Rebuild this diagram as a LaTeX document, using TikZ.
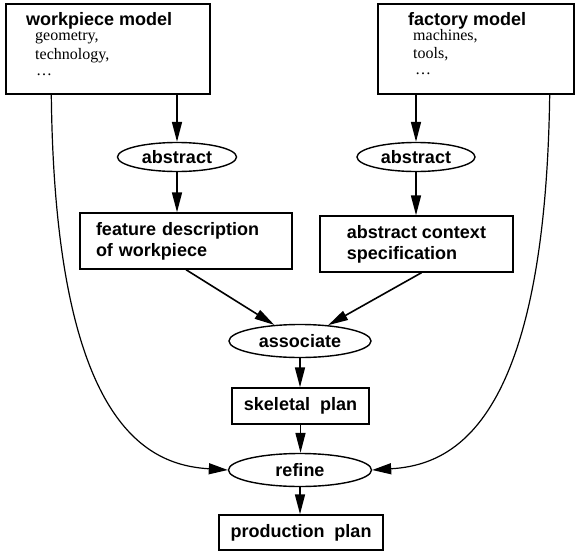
\documentclass[tikz,border=0pt]{standalone}
\usepackage{fontspec}
\setmainfont{Liberation Serif}
\setsansfont{Liberation Sans}
\usetikzlibrary{arrows.meta,shapes.geometric}
\begin{document}
\begin{tikzpicture}[x=1pt,y=-1pt,
  lbl/.style={font=\sffamily\bfseries\fontsize{18}{21}\selectfont},
  itm/.style={font=\fontsize{16}{19}\selectfont, anchor=base west, inner sep=0pt},
  ttl/.style={lbl, anchor=base west, inner sep=0pt},
  boxn/.style={draw, line width=1.4pt, rectangle, inner sep=0pt},
  ell/.style={draw, line width=1.4pt, ellipse, inner sep=0pt, lbl},
  arr/.style={-{Triangle[length=20pt,width=10pt]}, line width=1.6pt},
  carr/.style={-{Triangle[length=19pt,width=11pt]}, line width=1.2pt}]
\useasboundingbox (0,0) rectangle (579,552);

% top model boxes
\node[boxn, minimum width=204pt, minimum height=90pt] (wm) at (108,49) {};
\node[ttl] (wmt) at (26,25) {workpiece model};
\node[itm] (wm1) at (35,40) {geometry,};
\node[itm] (wm2) at (35,59) {technology,};
\node[itm] (wm3) at (36,75) {\dots};

\node[boxn, minimum width=196pt, minimum height=90pt] (fm) at (476,49) {};
\node[ttl] (fmt) at (408,25) {factory model};
\node[itm] (fm1) at (413,40) {machines,};
\node[itm] (fm2) at (413,58) {tools,};
\node[itm] (fm3) at (415,74) {\dots};

% abstract ellipses
\node[ell, minimum width=119pt, minimum height=29pt] (absL) at (177,157) {abstract};
\node[ell, minimum width=118pt, minimum height=29pt] (absR) at (416,157) {abstract};

% intermediate boxes
\node[boxn, lbl, minimum width=212pt, minimum height=56pt, text width=180pt, align=left, inner xsep=16pt] (feat) at (186,241) {feature description\\of workpiece};
\node[boxn, lbl, minimum width=193pt, minimum height=56pt, align=left] (ctx) at (416.5,244) {abstract context\\specification};

% lower chain
\node[ell, minimum width=142pt, minimum height=33pt] (assoc) at (300,341) {associate};
\node[boxn, lbl, minimum width=137pt, minimum height=36pt] (skel) at (300.5,406) {skeletal\ \ plan};
\node[ell, minimum width=143pt, minimum height=33pt] (refine) at (300,470) {refine};
\node[boxn, lbl, minimum width=164pt, minimum height=35pt] (prod) at (301,532.5) {production\ \ plan};

% arrows
\draw[arr] (absL.north |- wm.south) -- (absL.north);
\draw[arr] (absR.north |- fm.south) -- (absR.north);
\draw[arr] (absL.south) -- (absL.south |- feat.north);
\draw[arr] (absR.south) -- (absR.south |- ctx.north);
\draw[arr] (feat.south) -- (assoc);
\draw[arr] ([xshift=5pt]ctx.south) -- (assoc);
\draw[arr] (assoc.south) -- (assoc.south |- skel.north);
\draw[arr] (skel.south) -- (skel.south |- refine.north);
\draw[arr] (refine.south) -- (refine.south |- prod.north);

% curved arrows
\draw[carr] ([xshift=46pt]wm.south west) .. controls (55,430) and (150,465) .. (refine.west);
\draw[carr] ([xshift=-25pt]fm.south east) .. controls (545,430) and (450,465) .. (refine.east);
\end{tikzpicture}
\end{document}
